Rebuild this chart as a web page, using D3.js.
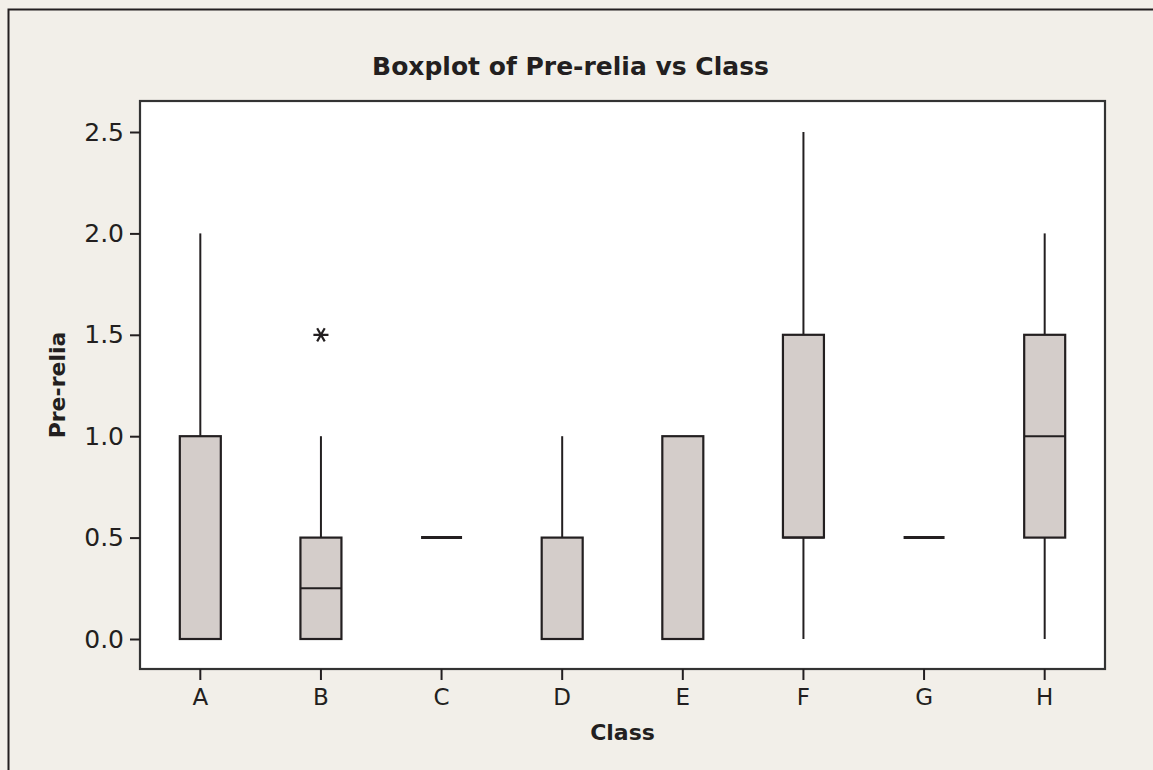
<!DOCTYPE html>
<html>
<head>
<meta charset="utf-8">
<script src="https://cdn.jsdelivr.net/npm/d3@7"></script>
<style>
  html, body { margin: 0; padding: 0; background: #f2efe9; }
  svg { display: block; }
  text { font-family: "DejaVu Sans", "Noto Sans", sans-serif; fill: #231f20; }
</style>
</head>
<body>
<svg id="chart" width="1153" height="770"></svg>
<script>
// Five-number summaries of Pre-relia for each class
const classes = ["A", "B", "C", "D", "E", "F", "G", "H"];
const whiskerLow  = [0,   0,    0.5, 0,   0,   0,   0.5, 0];
const q1          = [0,   0,    0.5, 0,   0,   0.5, 0.5, 0.5];
const medians     = [0,   0.25, 0.5, 0,   0,   0.5, 0.5, 1.0];
const q3          = [1.0, 0.5,  0.5, 0.5, 1.0, 1.5, 0.5, 1.5];
const whiskerHigh = [2.0, 1.0,  0.5, 1.0, 1.0, 2.5, 0.5, 2.0];
// Points beyond the whiskers
const outlierClass = ["B"];
const outlierValue = [1.5];
const yTicks = [0, 0.5, 1.0, 1.5, 2.0, 2.5];

const boxes = classes.map((c, i) => ({
  cls: c, lo: whiskerLow[i], q1: q1[i], med: medians[i], q3: q3[i], hi: whiskerHigh[i]
}));
const outliers = outlierClass.map((c, i) => ({ cls: c, v: outlierValue[i] }));

const svg = d3.select("#chart");
const W = 1153, H = 770;
const plot = { left: 140, top: 101, right: 1105, bottom: 669 };
const ink = "#231f20";

// Outer frame
svg.append("rect")
  .attr("x", 8.5).attr("y", 9.5)
  .attr("width", W + 10).attr("height", H + 10)
  .attr("fill", "#f2efe9").attr("stroke", ink).attr("stroke-width", 2);

const x = d3.scaleBand().domain(classes).range([plot.left, plot.right]);
const y = d3.scaleLinear().domain([0, 2.5]).range([639, 132]);

// Plot area
svg.append("rect")
  .attr("x", plot.left).attr("y", plot.top)
  .attr("width", plot.right - plot.left).attr("height", plot.bottom - plot.top)
  .attr("fill", "#ffffff").attr("stroke", "#333333").attr("stroke-width", 2.2);

// Axes
const yAxis = svg.append("g")
  .attr("transform", `translate(${plot.left},0)`)
  .call(d3.axisLeft(y).tickValues(yTicks).tickFormat(d3.format(".1f")).tickSize(10).tickPadding(6));
const xAxis = svg.append("g")
  .attr("transform", `translate(0,${plot.bottom})`)
  .call(d3.axisBottom(x).tickSize(11).tickPadding(9));
[yAxis, xAxis].forEach(g => {
  g.select(".domain").remove();
  g.selectAll(".tick line").attr("stroke", ink).attr("stroke-width", 2);
  g.selectAll(".tick text").attr("fill", ink).style("font-family", '"DejaVu Sans", sans-serif');
});
yAxis.selectAll(".tick text").attr("font-size", 25);
xAxis.selectAll(".tick text").attr("font-size", 23);

// Boxes and whiskers
const bw = 41;
const g = svg.append("g");
const cx = d => x(d.cls) + x.bandwidth() / 2;
boxes.forEach(d => {
  const c = cx(d);
  g.append("line").attr("x1", c).attr("x2", c).attr("y1", y(d.hi)).attr("y2", y(d.q3))
    .attr("stroke", ink).attr("stroke-width", 2);
  g.append("line").attr("x1", c).attr("x2", c).attr("y1", y(d.q1)).attr("y2", y(d.lo))
    .attr("stroke", ink).attr("stroke-width", 2);
  g.append("rect")
    .attr("x", c - bw / 2).attr("y", y(d.q3))
    .attr("width", bw).attr("height", y(d.q1) - y(d.q3))
    .attr("fill", "#d4cdca").attr("stroke", ink).attr("stroke-width", 2.2);
  g.append("line").attr("x1", c - bw / 2).attr("x2", c + bw / 2)
    .attr("y1", y(d.med)).attr("y2", y(d.med))
    .attr("stroke", ink).attr("stroke-width", d.q1 === d.q3 ? 3 : 2);
});

// Outliers drawn as asterisks
svg.append("g").selectAll("path").data(outliers).join("path")
  .attr("d", d3.symbol(d3.symbolAsterisk, 160))
  .attr("transform", d => `translate(${cx(d)},${y(d.v)}) rotate(90)`)
  .attr("fill", "none").attr("stroke", ink).attr("stroke-width", 2.2);

// Titles
svg.append("text")
  .attr("x", (plot.left + plot.right) / 2 - 52).attr("y", 75)
  .attr("text-anchor", "middle").attr("font-size", 25).attr("font-weight", "bold")
  .text("Boxplot of Pre-relia vs Class");
svg.append("text")
  .attr("x", (plot.left + plot.right) / 2).attr("y", 740)
  .attr("text-anchor", "middle").attr("font-size", 22).attr("font-weight", "bold")
  .text("Class");
svg.append("text")
  .attr("transform", `translate(65,${(plot.top + plot.bottom) / 2}) rotate(-90)`)
  .attr("text-anchor", "middle").attr("font-size", 22).attr("font-weight", "bold")
  .text("Pre-relia");
</script>
</body>
</html>
